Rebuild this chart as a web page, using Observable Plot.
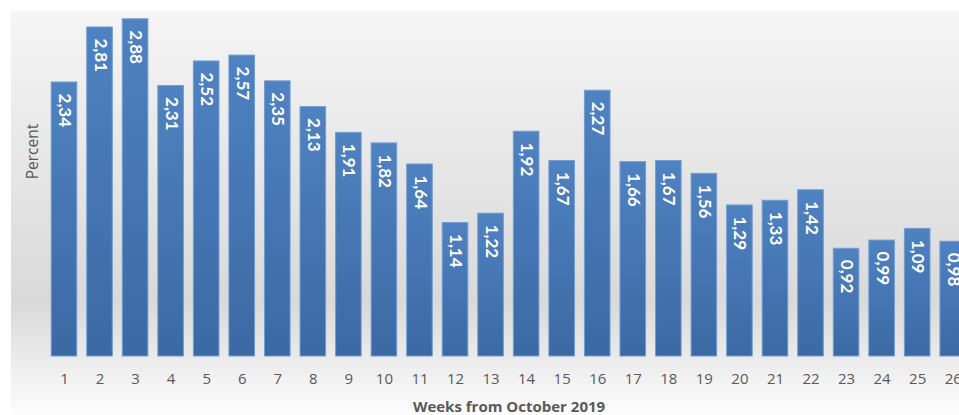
<!DOCTYPE html>
<html><head><meta charset="utf-8">
<script src="https://cdn.jsdelivr.net/npm/d3@7"></script>
<script src="https://cdn.jsdelivr.net/npm/@observablehq/plot@0.6"></script>
<style>html,body{margin:0;padding:0;background:#fff;overflow:hidden;width:959px;height:415px}</style>
</head><body><div id="chart"></div>
<script>
const weeks = [1,2,3,4,5,6,7,8,9,10,11,12,13,14,15,16,17,18,19,20,21,22,23,24,25,26];
const values = [2.34,2.81,2.88,2.31,2.52,2.57,2.35,2.13,1.91,1.82,1.64,1.14,1.22,1.92,1.67,2.27,1.66,1.67,1.56,1.29,1.33,1.42,0.92,0.99,1.09,0.98];
const xTitle = "Weeks from October 2019";
const yTitle = "Percent";
const data = weeks.map((w, i) => ({week: w, value: values[i]}));
const fmt = d3.formatLocale({decimal: ",", thousands: ".", grouping: [3], currency: ["", ""]}).format(".2f");

const background = (index, scales, vals, dims) => {
  const ns = "http://www.w3.org/2000/svg";
  const g = document.createElementNS(ns, "g");
  g.innerHTML = `<defs>
   <linearGradient id="bgGrad" x1="0" y1="0" x2="0" y2="1">
    <stop offset="0" stop-color="#f5f5f5"/><stop offset="0.72" stop-color="#d9d9d9"/><stop offset="1" stop-color="#fdfdfd"/>
   </linearGradient>
   <linearGradient id="barGrad" x1="0" y1="0" x2="0" y2="1">
    <stop offset="0" stop-color="#4f82c1"/><stop offset="1" stop-color="#3b69a4"/>
   </linearGradient></defs>
   <rect x="11" y="11" width="${dims.width - 11}" height="${dims.height - 11}" fill="url(#bgGrad)"/>`;
  return g;
};

const chart = Plot.plot({
  width: 959, height: 415,
  marginLeft: 58, marginRight: 0, marginTop: 0, marginBottom: 59,
  style: {fontFamily: "'Open Sans', sans-serif", background: "transparent", overflow: "hidden"},
  x: {type: "band", domain: weeks, range: [46.2, 970.5], paddingInner: 0.28, paddingOuter: 0.14, round: false, axis: null},
  y: {domain: [0, 2.95], range: [356, 10.6], axis: null},
  marks: [
    background,
    Plot.barY(data, {x: "week", y: "value", fill: "url(#barGrad)", stroke: "#739dd3", strokeWidth: 1}),
    Plot.text(data, {x: "week", y: "value", text: d => fmt(d.value), rotate: 90, textAnchor: "start", lineAnchor: "middle", dy: 11, fill: "white", fontWeight: "bold", fontSize: 17, fontFamily: "Lato, sans-serif"}),
    Plot.text(weeks, {x: d => d, frameAnchor: "bottom", dy: 23, lineAnchor: "middle", fill: "#595959", fontSize: 15}),
    Plot.text([xTitle], {frameAnchor: "bottom", dy: 51, lineAnchor: "middle", fill: "#595959", fontWeight: "bold", fontSize: 15}),
    Plot.text([yTitle], {frameAnchor: "left", dx: -25.5, dy: -27, rotate: -90, textAnchor: "middle", lineAnchor: "middle", fill: "#595959", fontSize: 15.5})
  ]
});
document.getElementById("chart").appendChild(chart);
</script>
</body></html>
